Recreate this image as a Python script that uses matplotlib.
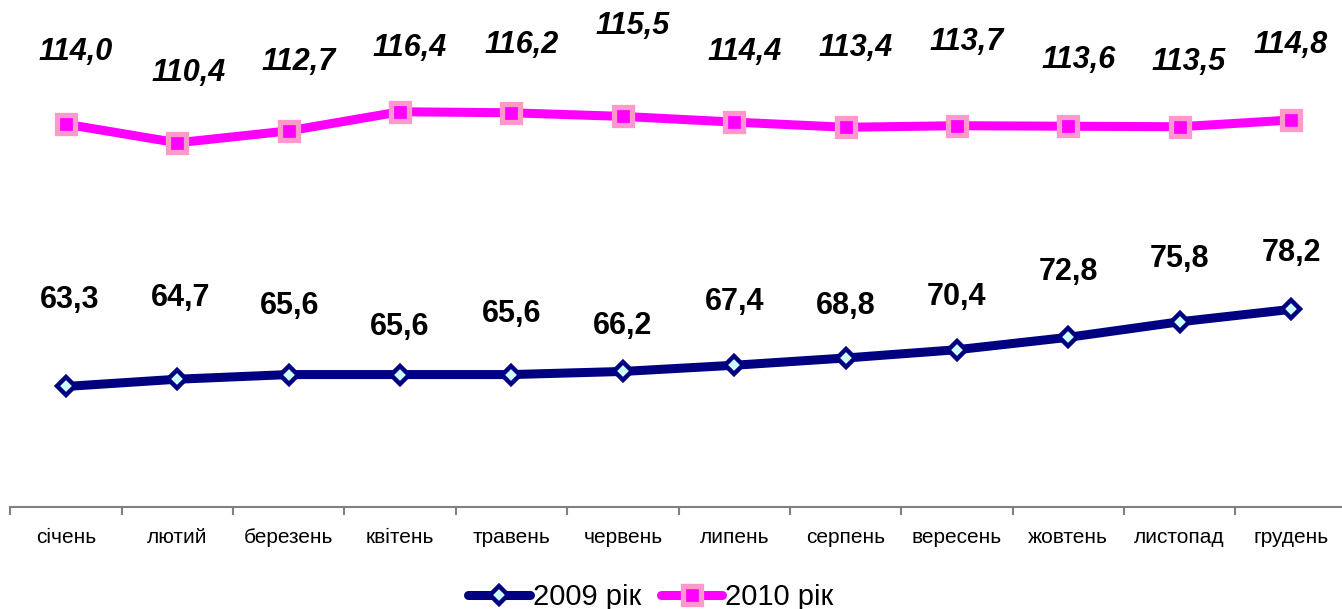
"""Monthly index, 2009 vs 2010 — line chart with data labels."""

import matplotlib

matplotlib.use("Agg")
import matplotlib.pyplot as plt

plt.rcParams["font.family"] = ["Liberation Sans", "DejaVu Sans"]

months = ["січень", "лютий", "березень", "квітень", "травень", "червень",
          "липень", "серпень", "вересень", "жовтень", "листопад", "грудень"]
values_2009 = [63.3, 64.7, 65.6, 65.6, 65.6, 66.2, 67.4, 68.8, 70.4, 72.8, 75.8, 78.2]
values_2010 = [114.0, 110.4, 112.7, 116.4, 116.2, 115.5, 114.4, 113.4, 113.7, 113.6, 113.5, 114.8]
series_names = ["2009 рік", "2010 рік"]

# label offsets from their points, in pixels (manually placed in the source)
offsets_2009 = [(4, 86), (3, 81), (1, 69), (0, 48), (0, 61), (0, 45),
                (0, 63), (0, 52), (0, 53), (0, 65), (0, 63), (0, 56)]
offsets_2010 = [(10, 72), (11, 70), (10, 69), (10, 64), (10, 68), (10, 90),
                (10, 70), (10, 79), (10, 84), (10, 66), (9, 65), (0, 75)]


def fmt(v):
    return f"{v:.1f}".replace(".", ",")


fig = plt.figure(figsize=(13.42, 6.09), dpi=100)
ax = fig.add_axes([10.3 / 1342, 1 - 507 / 609, 1336.4 / 1342, 507 / 609])

x = list(range(len(months)))
ax.plot(x, values_2009, color="#000080", lw=6.5, marker="D", ms=9,
        mfc="#CCFFFF", mec="#000080", mew=3.2, label=series_names[0],
        solid_capstyle="round", zorder=3)
ax.plot(x, values_2010, color="#FF00FF", lw=6.5, marker="s", ms=13,
        mfc="#FF00FF", mec="#FF99CC", mew=3.8, label=series_names[1],
        solid_capstyle="round", zorder=3)

for xi, v, (dx, dy) in zip(x, values_2009, offsets_2009):
    ax.annotate(fmt(v), (xi, v), xytext=(dx, dy), textcoords="offset pixels",
                ha="center", va="center", fontsize=22, fontweight="bold")
for xi, v, (dx, dy) in zip(x, values_2010, offsets_2010):
    ax.annotate(fmt(v), (xi, v), xytext=(dx, dy), textcoords="offset pixels",
                ha="center", va="center", fontsize=22, fontweight="bold",
                fontstyle="italic")

ax.set_xlim(-0.5, len(months) - 0.5)
ax.set_ylim(40, 138)

# ticks at category boundaries, labels at centres
ax.set_xticks([i - 0.5 for i in range(len(months) + 1)])
ax.set_xticklabels([])
ax.tick_params(axis="x", which="major", length=6, width=1.5, color="#808080")
ax.set_xticks(x, minor=True)
ax.set_xticklabels(months, minor=True, fontsize=15)
ax.tick_params(axis="x", which="minor", length=0, pad=15)
ax.set_yticks([])

for side in ("left", "right", "top"):
    ax.spines[side].set_visible(False)
ax.spines["bottom"].set_color("#808080")
ax.spines["bottom"].set_linewidth(1.5)

fig.legend(loc="center", bbox_to_anchor=(651 / 1342, 1 - 597 / 609), ncol=2,
           frameon=False, fontsize=21, handlelength=2.1, handletextpad=0.1,
           columnspacing=0.7, borderaxespad=0)

fig.savefig("out.png", dpi=100)
